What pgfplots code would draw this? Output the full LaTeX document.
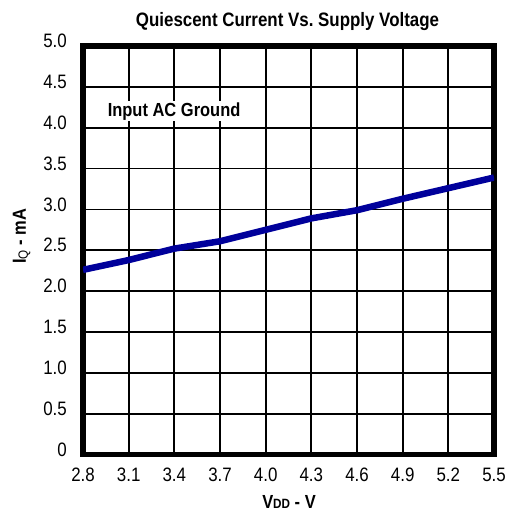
\documentclass[border=0pt]{standalone}
\usepackage{fontspec}
\setmainfont{Liberation Sans}[FakeStretch=0.87]
\usepackage{pgfplots}
\pgfplotsset{compat=1.18}
\definecolor{curve}{RGB}{0,0,155}
\begin{document}
\frenchspacing
\begin{tikzpicture}
\begin{axis}[
  at={(0,0)}, anchor=south west,
  width=411bp, height=408.5bp, scale only axis,
  xmin=2.8, xmax=5.5, ymin=0, ymax=5,
  xtick={2.8,3.1,3.4,3.7,4.0,4.3,4.6,4.9,5.2,5.5},
  xticklabels={2.8,3.1,3.4,3.7,4.0,4.3,4.6,4.9,5.2,5.5},
  ytick={0,0.5,1,1.5,2,2.5,3,3.5,4,4.5,5},
  yticklabels={0,0.5,1.0,1.5,2.0,2.5,3.0,3.5,4.0,4.5,5.0},
  /pgf/number format/assume math mode=true,
  grid=major,
  major grid style={black, line width=1.8bp},
  axis line style={line width=5.5bp},
  major tick length=0pt,
  tick style={draw=none},
  tick label style={font=\fontsize{19.5}{22}\selectfont, inner sep=0pt},
  xticklabel style={anchor=north, yshift=-13.5bp},
  yticklabel style={anchor=east, xshift=-16bp, yshift=5bp},
]
\addplot[color=curve, line width=6.5bp, line join=round] coordinates {
  (2.8,2.26) (3.1,2.38) (3.4,2.52) (3.7,2.61) (4.0,2.75)
  (4.3,2.89) (4.6,2.99) (4.9,3.13) (5.2,3.26) (5.5,3.39)
};
\node[anchor=base west, font=\fontsize{19}{22}\selectfont\bfseries, fill=white, inner sep=1bp] at (axis cs:2.955,4.0) [yshift=11.5bp] {Input AC Ground};
\end{axis}
\node[anchor=base, font=\fontsize{19.5}{22}\selectfont\bfseries, inner sep=0pt] at (204.5bp,427.5bp) {Quiescent Current Vs. Supply Voltage};
\node[anchor=base, font=\fontsize{19}{22}\selectfont\bfseries, inner sep=0pt] at (206bp,-53.5bp) {V{\fontsize{13.5}{14}\selectfont DD} - V};
\node[anchor=base, rotate=90, font=\fontsize{19}{22}\selectfont\bfseries, inner sep=0pt] at (-57bp,218bp) {I{\fontsize{13.5}{14}\selectfont\mdseries\raisebox{-2bp}{Q}} - mA};
\pgfresetboundingbox
\path[use as bounding box] (-83bp,-58.5bp) rectangle (423bp,454.5bp);
\end{tikzpicture}
\end{document}
